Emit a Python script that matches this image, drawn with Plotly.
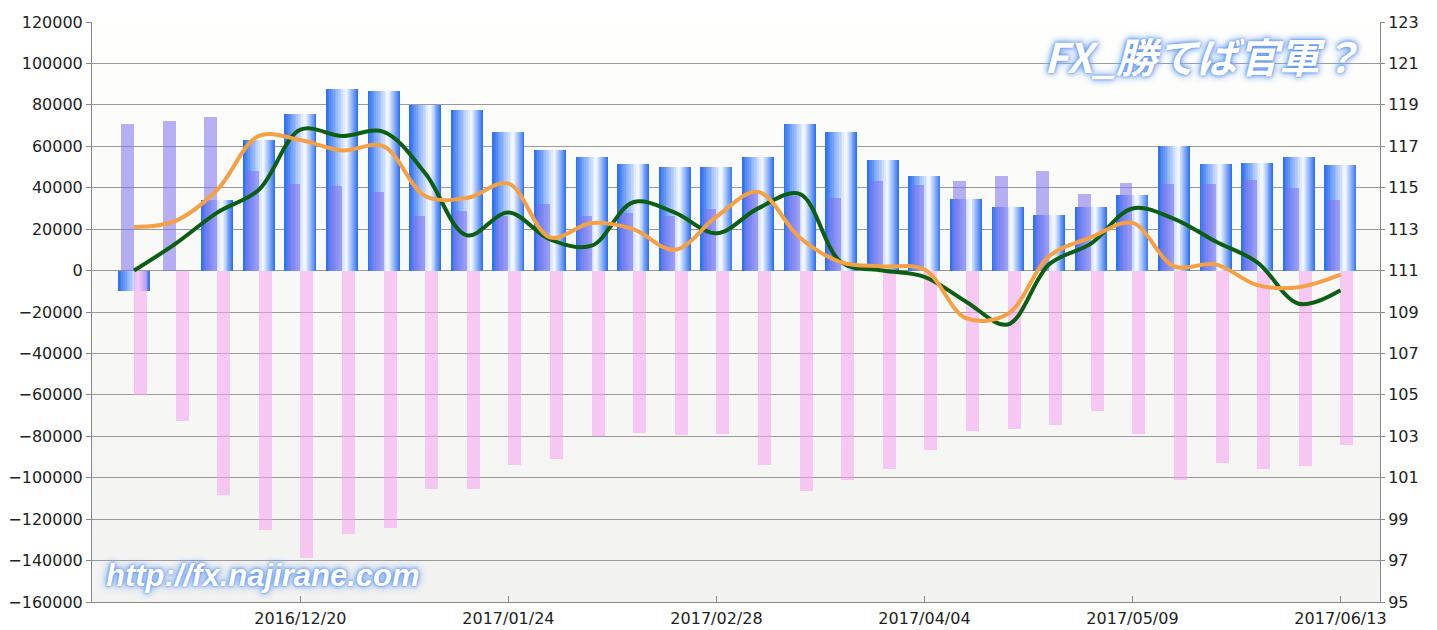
import plotly.graph_objects as go

# ---------------- data ----------------
weeks = ["2016/11/22", "2016/11/29", "2016/12/06", "2016/12/13", "2016/12/20",
         "2016/12/27", "2017/01/03", "2017/01/10", "2017/01/17", "2017/01/24",
         "2017/01/31", "2017/02/07", "2017/02/14", "2017/02/21", "2017/02/28",
         "2017/03/07", "2017/03/14", "2017/03/21", "2017/03/28", "2017/04/04",
         "2017/04/11", "2017/04/18", "2017/04/25", "2017/05/02", "2017/05/09",
         "2017/05/16", "2017/05/23", "2017/05/30", "2017/06/06", "2017/06/13"]

net_position = [-10000, 0, 34000, 63000, 75500, 87500, 86500, 80000, 77500, 67000,
                58000, 54700, 51500, 50100, 50100, 54700, 71000, 67000, 53300, 45600,
                34600, 30600, 26700, 30600, 36400, 60000, 51500, 52000, 54600, 50900]

long_position = [71000, 72300, 74200, 48000, 42000, 40700, 37800, 26200, 29000, 26200,
                 31900, 26200, 27800, 26200, 29500, 38300, 35900, 35100, 43100, 41100,
                 43100, 45600, 48000, 37000, 42400, 41900, 41900, 43500, 40000, 34000]

short_position = [-60200, -72500, -108200, -125100, -138800, -127000, -124300, -105500, -105500, -93700,
                  -90800, -80000, -78400, -79200, -78700, -93700, -106600, -101300, -95800, -86800,
                  -77600, -76300, -74700, -68000, -78700, -101300, -92900, -95800, -94200, -84400]

rate_green = [111.0, 112.3, 113.8, 114.9, 117.8, 117.5, 117.7, 115.7, 112.7, 113.8,
              112.5, 112.2, 114.3, 113.8, 112.8, 114.0, 114.7, 111.4, 111.0, 110.7,
              109.5, 108.4, 111.3, 112.3, 114.0, 113.5, 112.4, 111.4, 109.4, 110.05]

rate_orange = [113.1, 113.4, 114.9, 117.5, 117.3, 116.8, 117.0, 114.6, 114.5, 115.2,
               112.6, 113.3, 113.0, 112.0, 113.6, 114.8, 112.6, 111.4, 111.2, 111.05,
               108.7, 108.9, 111.7, 112.6, 113.3, 111.2, 111.3, 110.3, 110.2, 110.8]

tick_dates = ["2016/12/20", "2017/01/24", "2017/02/28", "2017/04/04", "2017/05/09", "2017/06/13"]
left_ticks = list(range(-160000, 120001, 20000))
right_ticks = list(range(95, 124, 2))

# ---------------- figure ----------------
fig = go.Figure()

# blue net-position bars with a horizontal gradient (nested overlay layers)
BW = 0.77
N = 12
c_blue = (48, 114, 242)
c_light = (240, 246, 255)
for k in range(N):
    t0 = 0.64 * k / N
    t1 = 1 - 0.36 * k / N
    f = k / (N - 1)
    col = tuple(round(c_blue[i] + (c_light[i] - c_blue[i]) * f) for i in range(3))
    fig.add_trace(go.Bar(
        x=weeks, y=net_position, width=BW * (t1 - t0), offset=-BW / 2 + BW * t0,
        marker=dict(color="rgb(%d,%d,%d)" % col, line=dict(width=0)),
        yaxis="y", showlegend=False, hoverinfo="skip" if k else "x+y"))

# long (purple) and short (pink) bars, semi-transparent on top
fig.add_trace(go.Bar(x=weeks, y=long_position, width=0.31, offset=-0.31,
                     marker=dict(color="rgba(125,112,238,0.55)", line=dict(width=0)),
                     yaxis="y", showlegend=False))
fig.add_trace(go.Bar(x=weeks, y=short_position, width=0.31, offset=0.0,
                     marker=dict(color="rgba(246,160,238,0.55)", line=dict(width=0)),
                     yaxis="y", showlegend=False))

# rate lines
fig.add_trace(go.Scatter(x=weeks, y=rate_green, mode="lines", yaxis="y2",
                         line=dict(color="#0b5e12", width=4, shape="spline", smoothing=1.0),
                         showlegend=False))
fig.add_trace(go.Scatter(x=weeks, y=rate_orange, mode="lines", yaxis="y2",
                         line=dict(color="#f5a043", width=4, shape="spline", smoothing=1.0),
                         showlegend=False))

# soft vertical background gradient
shapes = []
NB = 14
for i in range(NB):
    g = round(254 - 12 * (i / (NB - 1)))
    shapes.append(dict(type="rect", xref="paper", yref="paper", x0=0, x1=1,
                       y0=1 - (i + 1) / NB, y1=1 - i / NB, layer="below",
                       line=dict(width=0), fillcolor="rgb(%d,%d,%d)" % (g, g, g - 1)))

tick_font = dict(family="DejaVu Sans", size=16, color="#222222")

fig.update_layout(
    width=1437, height=630,
    margin=dict(l=92, r=57, t=22, b=28, autoexpand=False),
    paper_bgcolor="white", plot_bgcolor="white",
    barmode="overlay", bargap=0,
    shapes=shapes,
    xaxis=dict(type="category", range=[-1.01, 29.95], automargin=False,
               tickmode="array", tickvals=tick_dates, ticktext=tick_dates,
               ticks="inside", ticklen=6, tickcolor="#888888",
               ticklabelstandoff=2,
               showline=True, linecolor="#888888", linewidth=1,
               showgrid=False, tickfont=dict(family="DejaVu Sans", size=16, color="#222222")),
    yaxis=dict(range=[-160000, 120000], tickmode="array", tickvals=left_ticks, automargin=False,
               tickformat="d", ticks="outside", ticklen=5, tickcolor="#888888",
               showline=True, linecolor="#888888", linewidth=1,
               showgrid=True, gridcolor="#9a9a9a", gridwidth=1, zeroline=False,
               tickfont=tick_font),
    yaxis2=dict(range=[95, 123], overlaying="y", side="right", automargin=False,
                tickmode="array", tickvals=right_ticks,
                ticks="outside", ticklen=4, tickcolor="#888888",
                showline=True, linecolor="#888888", linewidth=1,
                showgrid=False, zeroline=False, tickfont=tick_font),
)

glow = "0 0 3px #4a86e8, 0 0 6px #6f9ff0, 0 0 10px #9cc0f5"
fig.add_annotation(text="FX_勝てば官軍？", xref="paper", yref="paper",
                   x=(1202 - 92) / 1288, y=(602 - 55) / 580, showarrow=False,
                   xanchor="center", yanchor="middle",
                   font=dict(family="Noto Sans CJK JP", size=41, color="white",
                             weight="bold", style="italic", shadow=glow))
fig.add_annotation(text="http://fx.najirane.com", xref="paper", yref="paper",
                   x=(262 - 92) / 1288, y=(602 - 575) / 580, showarrow=False,
                   xanchor="center", yanchor="middle",
                   font=dict(family="Liberation Sans", size=31, color="white",
                             weight="bold", style="italic", shadow=glow))

fig.write_html("out.html", config={"displayModeBar": False},
               post_script="document.body.style.margin='0';")
